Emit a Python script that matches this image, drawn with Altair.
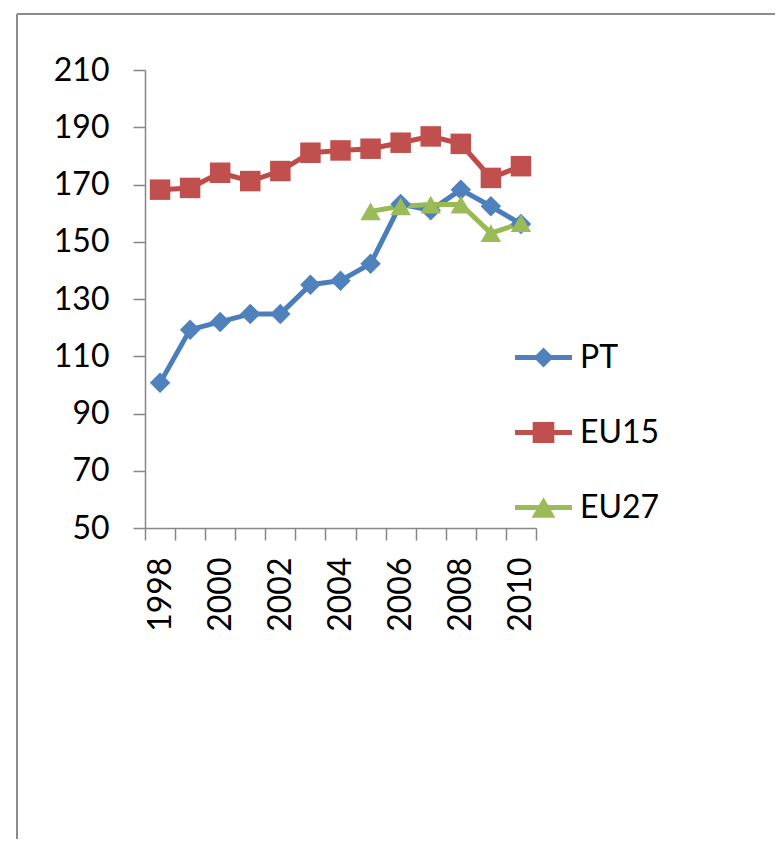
import altair as alt
import pandas as pd

years = [str(y) for y in range(1998, 2011)]
series_names = ["PT", "EU15", "EU27"]
pt = [100.7, 119.3, 122.0, 124.8, 124.8, 135.0, 136.4, 142.3, 163.2, 161.0, 168.2, 162.4, 156.2]
eu15 = [168.2, 168.8, 174.1, 171.2, 174.7, 181.1, 181.9, 182.5, 184.6, 186.8, 184.2, 172.3, 176.4]
eu27 = [None, None, None, None, None, None, None, 160.6, 162.4, 163.0, 163.0, 153.0, 156.5]

line_colors = ["#4A7EBB", "#BE4B48", "#98B954"]
marker_colors = ["#4F81BD", "#C0504D", "#9BBB59"]
marker_shapes = ["diamond", "square", "triangle-up"]

rows = []
for name, vals in zip(series_names, [pt, eu15, eu27]):
    for y, v in zip(years, vals):
        if v is not None:
            rows.append({"Year": y, "Value": v, "Series": name})
df = pd.DataFrame(rows)

FONT = "Lato"
GRAY = "#868686"

x_enc = alt.X("Year:O", scale=alt.Scale(type="band", paddingInner=0, paddingOuter=0),
              axis=alt.Axis(title=None, tickBand="extent", labelAngle=270, tickSize=12,
                            labelPadding=17, labelFont=FONT, labelFontSize=32,
                            labelColor="#000000", domainColor=GRAY, tickColor=GRAY,
                            domainWidth=1.5, tickWidth=1.5, labelOverlap=False, grid=False,
                            labelExpr="toNumber(datum.value) % 2 == 0 ? datum.label : ''"))
y_enc = alt.Y("Value:Q", scale=alt.Scale(domain=[50, 210], nice=False, zero=False),
              axis=alt.Axis(title=None, values=list(range(50, 211, 20)), tickSize=12,
                            labelPadding=24, labelFont=FONT, labelFontSize=32,
                            labelColor="#000000", domainColor=GRAY, tickColor=GRAY,
                            domainWidth=1.5, tickWidth=1.5, grid=False))

lines = alt.Chart(df).mark_line(strokeWidth=5).encode(
    x=x_enc, y=y_enc,
    color=alt.Color("Series:N", scale=alt.Scale(domain=series_names, range=line_colors), legend=None),
    detail="Series:N",
)

points = alt.Chart(df).mark_point(filled=True, opacity=1, size=420, strokeWidth=0).encode(
    x=x_enc, y=y_enc,
    color=alt.Color("Series:N", scale=alt.Scale(domain=series_names, range=marker_colors), legend=None),
    shape=alt.Shape("Series:N", scale=alt.Scale(domain=series_names, range=marker_shapes), legend=None),
)

bar = "M -1 -0.085 L 1 -0.085 L 1 0.085 L -1 0.085 Z "
legend_paths = [
    bar + "M -0.35 0 L 0 -0.35 L 0.35 0 L 0 0.35 Z",
    bar + "M -0.38 -0.37 L 0.38 -0.37 L 0.38 0.37 L -0.38 0.37 Z",
    bar + "M 0 -0.36 L 0.42 0.36 L -0.42 0.36 Z",
]

legend_props = dict(title=None, orient="none", legendX=370, legendY=259,
                    symbolSize=3249, symbolStrokeWidth=0, labelFont=FONT,
                    labelFontSize=32, labelColor="#000000", labelOffset=8,
                    rowPadding=30, padding=0, symbolOpacity=1)

legend_layer = alt.Chart(df).transform_filter("datum.Value < 0").mark_point(filled=True).encode(
    x=x_enc, y=y_enc,
    color=alt.Color("Series:N", scale=alt.Scale(domain=series_names, range=marker_colors),
                    legend=alt.Legend(**legend_props)),
    shape=alt.Shape("Series:N", scale=alt.Scale(domain=series_names, range=legend_paths),
                    legend=alt.Legend(**legend_props)),
)

border_left = alt.Chart(df).mark_rule(color="#8C8C8C", strokeWidth=2).encode(
    x=alt.value(-128), y=alt.value(-56), y2=alt.value(790))
border_top = alt.Chart(df).mark_rule(color="#8C8C8C", strokeWidth=2).encode(
    x=alt.value(-128), x2=alt.value(650), y=alt.value(-56))

chart = alt.layer(border_left, border_top, lines, points, legend_layer).resolve_scale(
    color="independent", shape="independent"
).properties(
    width=391, height=458,
    background="#FFFFFF",
    autosize=alt.AutoSizeParams(type="none"),
    padding={"left": 137, "top": 62, "right": 239, "bottom": 311},
).configure_view(strokeWidth=0, stroke="transparent")

chart.save("out.html", embed_options={"renderer": "svg", "actions": False})
